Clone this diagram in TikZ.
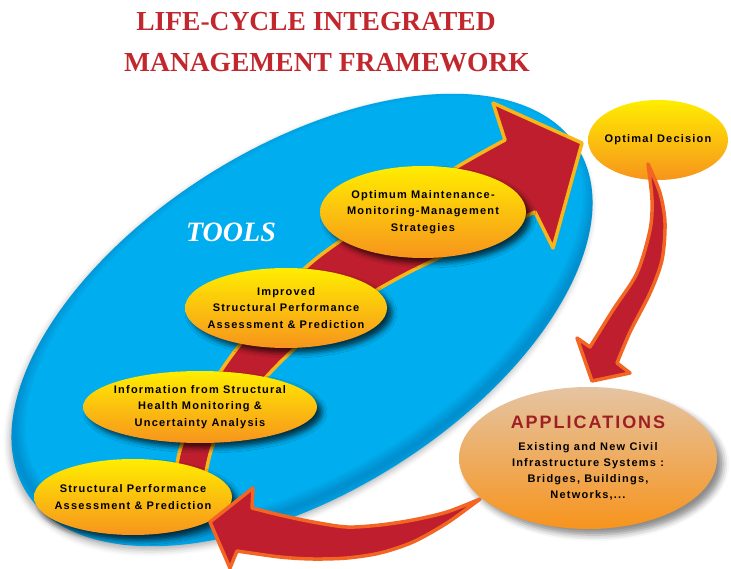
\documentclass[tikz,border=0pt]{standalone}
\usepackage{fontspec}
\setmainfont{Liberation Serif}
\newfontfamily\boxfont{Liberation Sans}[LetterSpace=11]
\usetikzlibrary{shapes.geometric,shadows.blur}

\definecolor{toolsblue}{RGB}{0,174,239}
\definecolor{toolsdark}{RGB}{0,70,130}
\definecolor{titlered}{RGB}{193,39,45}
\definecolor{arrowred}{RGB}{190,30,45}
\definecolor{arrowgold}{RGB}{250,182,24}
\definecolor{arroworange}{RGB}{242,101,34}
\definecolor{stepyellow}{RGB}{255,237,0}
\definecolor{steporange}{RGB}{247,148,29}
\definecolor{apptan}{RGB}{229,196,163}
\definecolor{appred}{RGB}{158,31,36}

\begin{document}
\begin{tikzpicture}[x=1pt, y=-1pt, step_style/.style={ellipse, inner sep=-20pt, align=center, font=\boxfont\bfseries\fontsize{11}{16.5}\selectfont, top color=stepyellow, bottom color=steporange}, tool_style/.style={step_style, blur shadow={shadow xshift=5pt, shadow yshift=-5pt, shadow opacity=70, shadow blur radius=5pt}}, app_style/.style={ellipse, inner sep=-20pt, align=center, font=\boxfont\bfseries\fontsize{11}{16}\selectfont, top color=apptan, bottom color=steporange, blur shadow={shadow xshift=6pt, shadow yshift=-6pt, shadow opacity=45, shadow blur radius=6pt}}, title_style/.style={anchor=base, inner sep=0pt, text=titlered, font=\bfseries\fontsize{27.5}{30}\selectfont}, main_arrow/.style={fill=arrowred, draw=arrowgold, line width=3.5pt, line join=round}, turn_arrow/.style={fill=arrowred, draw=arroworange, line width=3.5pt, line join=round}]
  \useasboundingbox (0,0) rectangle (731,569);

  % title
  \node[title_style] (title1) at (316,31) {LIFE-CYCLE INTEGRATED};
  \node[title_style] (title2) at (327,72) {MANAGEMENT FRAMEWORK};

  % tools area, darker along the lower rim
  \fill[toolsblue, rotate around={32:(302,320)}, blur shadow={shadow xshift=-2pt, shadow yshift=-4pt, shadow opacity=30, shadow blur radius=6pt}] (302,320) ellipse [x radius=325, y radius=173];
  \begin{scope}
    \clip[rotate around={32:(302,320)}] (302,320) ellipse [x radius=325, y radius=173];
    \foreach \w in {4,8,...,24}
      \draw[toolsdark, opacity=0.05, line width=\w pt, rotate around={32:(302,320)}] (309,313) ellipse [x radius=325, y radius=173];
  \end{scope}

  \filldraw[main_arrow] plot[smooth, tension=0.6] coordinates {(174,492) (180,450) (200,405) (238,347) (303,270) (380,215) (457,167) (505,140)}
    -- (493,103) -- (582,143) -- (553,248) -- (535,212)
    -- plot[smooth, tension=0.6] coordinates {(535,212) (470,243) (400,277) (340,313) (293,350) (250,395) (215,440) (203,492)} -- cycle;

  \node[tool_style, minimum width=206pt, minimum height=92pt] (optimum) at (423,212) {Optimum Maintenance-\\Monitoring-Management\\Strategies};
  \node[tool_style, minimum width=202pt, minimum height=80pt] (improved) at (286,308) {Improved\\Structural Performance\\Assessment \& Prediction};
  \node[tool_style, minimum width=234pt, minimum height=72pt] (info) at (200,407) {Information from Structural\\Health Monitoring \&\\Uncertainty Analysis};
  \node[tool_style, minimum width=198pt, minimum height=76pt] (perf) at (133,497) {Structural Performance\\Assessment \& Prediction};

  \node[anchor=base, inner sep=0pt, text=white, font=\bfseries\itshape\fontsize{28}{30}\selectfont] (tools) at (231,242) {TOOLS};

  % decision and applications
  \node[step_style, minimum width=140pt, minimum height=80pt] (decision) at (658,140) {Optimal Decision};

  \filldraw[turn_arrow] plot[smooth] coordinates {(648,164) (660,193) (665,223) (662,260) (650,293) (630,332) (617,363)}
    -- (630,373) -- (592,381) -- (577,338) -- (590,347)
    -- plot[smooth] coordinates {(590,347) (613,310) (637,273) (650,230) (652,200) (648,164)} -- cycle;

  \node[app_style, minimum width=258pt, minimum height=142pt] (apps) at (588,458) {{\color{appred}\fontsize{18}{20}\selectfont APPLICATIONS}\\[6pt]Existing and New Civil\\Infrastructure Systems :\\Bridges, Buildings,\\Networks,...};

  \filldraw[turn_arrow] plot[smooth] coordinates {(480,499) (447,512) (413,520) (380,525) (347,527) (313,522) (280,515) (252,508)}
    -- (253,488) -- (210,522) -- (230,568) -- (237,551)
    -- plot[smooth] coordinates {(237,551) (280,557) (313,559) (347,558) (380,553) (413,542) (447,523) (480,499)} -- cycle;
\end{tikzpicture}
\end{document}
